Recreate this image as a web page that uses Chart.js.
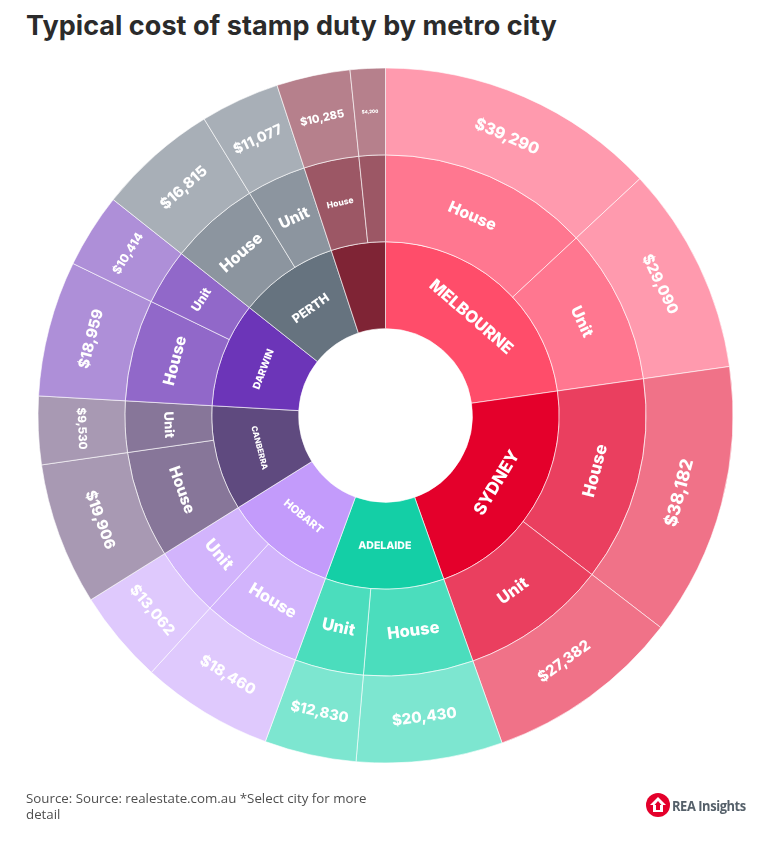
<!DOCTYPE html>
<html>
<head>
<meta charset="utf-8">
<title>Typical cost of stamp duty by metro city</title>
<script src="https://cdn.jsdelivr.net/npm/chart.js@4/dist/chart.umd.min.js"></script>
<style>
  html, body { margin: 0; padding: 0; background: #fff; }
  body { position: relative; width: 769px; height: 851px; overflow: hidden; }
  #chart { position: absolute; left: 0; top: 0; }
  #title { position: absolute; left: 26px; top: 9px; font: 700 27px Inter, sans-serif; color: #2b2b2b; white-space: nowrap; letter-spacing: 0.05px; }
  #source { position: absolute; left: 26px; top: 790px; width: 350px; font: 13.3px/16px "Open Sans", sans-serif; color: #4f4f4f; }
  #logo { position: absolute; left: 646px; top: 793px; display: flex; align-items: center; }
  #logo span { font: 700 15px "Open Sans", sans-serif; color: #55606a; margin-left: 2px; letter-spacing: -0.5px; transform: scaleX(0.86); transform-origin: left center; white-space: nowrap; }
</style>
</head>
<body>
<div id="title">Typical cost of stamp duty by metro city</div>
<canvas id="chart" width="769" height="851"></canvas>
<div id="source">Source: Source: realestate.com.au *Select city for more detail</div>
<div id="logo">
  <svg width="24" height="24" viewBox="0 0 24 24"><circle cx="12" cy="12" r="12" fill="#e4002b"/><path d="M12 4 L20 12 L17 12 L17 19 L7 19 L7 12 L4 12 Z" fill="#fff"/><path d="M12 8 L15.5 12 L14 12 L14 17 L10 17 L10 12 L8.5 12 Z" fill="#e4002b"/></svg>
  <span>REA Insights</span>
</div>

<script>
const cityLabels = ["MELBOURNE", "SYDNEY", "ADELAIDE", "HOBART", "CANBERRA", "DARWIN", "PERTH", ""];
const houseValues = [39290, 38182, 20430, 18460, 19906, 18959, 16815, 10285];
const unitValues = [29090, 27382, 12830, 13062, 9530, 10414, 11077, 4900];

// colours per city: inner ring, middle ring, outer ring
const innerColors = ["#ff4d6a", "#e4002b", "#14cfa6", "#c39bfb", "#5f4a7f", "#6c35b8", "#66737f", "#7f2435"];
const middleColors = ["#ff7790", "#ea3f5f", "#4bddbd", "#d2b4fc", "#877699", "#9168c9", "#8c959f", "#9c5765"];
const outerColors = ["#ff9aae", "#f07288", "#7de6d0", "#dfc9fd", "#a899b3", "#ae8fd8", "#a8afb7", "#b6808c"];

// font sizes for the labels, same order as the slices
const innerSizes = [16.5, 17, 10.5, 11, 8, 10, 12.5, 0];
const middleHouseSizes = [16, 17, 16.5, 16.5, 15.5, 16, 16, 8.5];
const middleUnitSizes = [16, 16.5, 16.5, 17, 13, 12.5, 15.5, 0];
const outerHouseSizes = [16, 17.5, 15, 15, 15, 15, 15, 11];
const outerUnitSizes = [15, 15, 14.5, 15, 11.5, 12, 14, 4.5];

function pairUp(a, b) {
  const out = [];
  a.forEach((v, i) => out.push(v, b[i]));
  return out;
}

function money(v) {
  return "$" + v.toLocaleString("en-US");
}

const totals = houseValues.map((v, i) => v + unitValues[i]);
const ringValues = pairUp(houseValues, unitValues);

// text on the slices, written along the arc
const sliceLabels = {
  id: "sliceLabels",
  afterDatasetsDraw(chart) {
    const ctx = chart.ctx;
    const texts = [
      ringValues.map((v, i) => (i === 15 ? "$4,200" : money(v))),
      ringValues.map((v, i) => (i === 15 ? "" : i % 2 ? "Unit" : "House")),
      cityLabels
    ];
    const sizes = [
      pairUp(outerHouseSizes, outerUnitSizes),
      pairUp(middleHouseSizes, middleUnitSizes),
      innerSizes
    ];
    chart.data.datasets.forEach((ds, d) => {
      chart.getDatasetMeta(d).data.forEach((arc, i) => {
        if (!texts[d][i]) return;
        const mid = (arc.startAngle + arc.endAngle) / 2;
        const r = (arc.innerRadius + arc.outerRadius) / 2;
        let rot = mid + Math.PI / 2;
        if (rot > Math.PI / 2 && rot < Math.PI * 1.5) rot -= Math.PI;
        ctx.save();
        ctx.translate(arc.x + Math.cos(mid) * r, arc.y + Math.sin(mid) * r);
        ctx.rotate(rot);
        ctx.font = "800 " + sizes[d][i] + "px Inter, sans-serif";
        ctx.textAlign = "center";
        ctx.textBaseline = "middle";
        ctx.fillStyle = "#fff";
        ctx.fillText(texts[d][i], 0, 0);
        ctx.restore();
      });
    });
  }
};

new Chart(document.getElementById("chart"), {
  type: "doughnut",
  data: {
    labels: pairUp(houseValues, unitValues).map(money),
    datasets: [
      { data: ringValues, backgroundColor: pairUp(outerColors, outerColors), borderColor: "rgba(255,255,255,0.6)", borderWidth: 1 },
      { data: ringValues, backgroundColor: pairUp(middleColors, middleColors), borderColor: "rgba(255,255,255,0.6)", borderWidth: 1 },
      { data: totals, backgroundColor: innerColors, borderColor: "rgba(255,255,255,0.6)", borderWidth: 1 }
    ]
  },
  options: {
    responsive: false,
    animation: false,
    cutout: "25%",
    layout: { padding: { left: 37.5, right: 35.5, top: 67.5, bottom: 87.5 } },
    plugins: { legend: { display: false }, tooltip: { enabled: false } }
  },
  plugins: [sliceLabels]
});
</script>
</body>
</html>
